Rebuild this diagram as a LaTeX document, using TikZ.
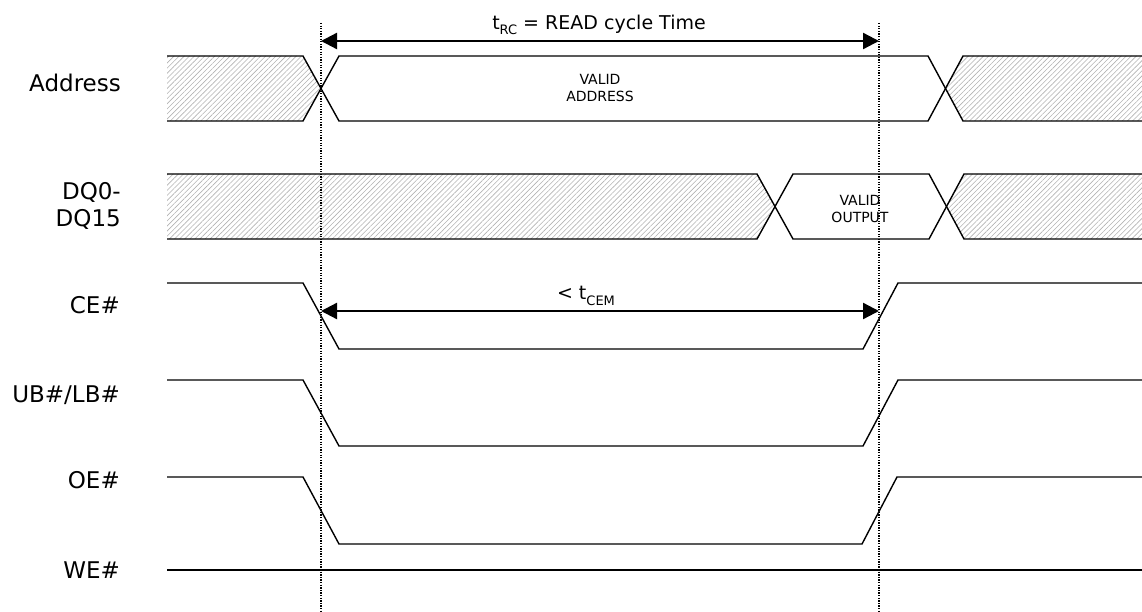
\documentclass[tikz,border=0pt]{standalone}
\usepackage{fontspec}
\setmainfont{DejaVu Sans}
\usetikzlibrary{arrows.meta,patterns.meta}
\newcommand\sbs[1]{\raisebox{-0.3em}{\fontsize{13}{13}\selectfont #1}}
\begin{document}
\begin{tikzpicture}[x=1pt,y=-1pt,
  sig/.style={line width=1.4pt,line join=miter},
  hatch/.style={pattern={Lines[angle=45,distance=3.6pt,line width=0.6pt]},pattern color=black!30},
  guide/.style={line width=1.2pt,dash pattern=on 1.3pt off 1.3pt},
  dim/.style={line width=2.3pt,{Triangle[length=16pt,width=16pt]}-{Triangle[length=16pt,width=16pt]}},
  lbl/.style={anchor=east,font=\fontsize{23}{27}\selectfont,align=right,inner sep=0pt},
  note/.style={font=\fontsize{19}{22}\selectfont,inner sep=0pt},
  small/.style={font=\fontsize{14}{17}\selectfont,align=center,inner sep=0pt}]
\useasboundingbox (0,0) rectangle (1142,612);

% hatched regions
\fill[hatch] (167,56) -- (303,56) -- (321,88.5) -- (303,121) -- (167,121) -- cycle;
\fill[hatch] (1142,56) -- (963,56) -- (945.5,88.5) -- (963,121) -- (1142,121) -- cycle;
\fill[hatch] (167,174) -- (757,174) -- (775,206.5) -- (757,239) -- (167,239) -- cycle;
\fill[hatch] (1142,174) -- (964,174) -- (946.5,206.5) -- (964,239) -- (1142,239) -- cycle;

% guide lines
\coordinate (g1t) at (321,23); \coordinate (g1b) at (321,612);
\coordinate (g2t) at (879,23); \coordinate (g2b) at (879,612);
\draw[guide] (g1t) -- (g1b);
\draw[guide] (g2t) -- (g2b);

% Address
\draw[sig] (167,56) -- (303,56) -- (339,121) -- (928,121) -- (963,56) -- (1142,56);
\draw[sig] (167,121) -- (303,121) -- (339,56) -- (928,56) -- (963,121) -- (1142,121);
% DQ
\draw[sig] (167,174) -- (757,174) -- (793,239) -- (929,239) -- (964,174) -- (1142,174);
\draw[sig] (167,239) -- (757,239) -- (793,174) -- (929,174) -- (964,239) -- (1142,239);
% CE#
\draw[sig] (167,283) -- (303,283) -- (339,349) -- (863,349) -- (898,283) -- (1142,283);
% UB#/LB#
\draw[sig] (167,380) -- (303,380) -- (339,446) -- (863,446) -- (898,380) -- (1142,380);
% OE#
\draw[sig] (167,477) -- (303,477) -- (339,544) -- (862,544) -- (897,477) -- (1142,477);
% WE#
\draw[sig] (167,570) -- (1142,570);

% dimension arrows
\coordinate (a1) at (321,41); \coordinate (a2) at (879,41);
\draw[dim] (a1) -- (a2);
\coordinate (c1) at (321,311); \coordinate (c2) at (879,311);
\draw[dim] (c1) -- (c2);

% texts
\node[note] (trc) at (599,25) {t\sbs{RC} = READ cycle Time};
\node[note] (tcem) at (586,296) {< t\sbs{CEM}};
\node[small] (va) at (600,88) {VALID\\ADDRESS};
\node[small] (vo) at (860,209) {VALID\\OUTPUT};

\node[lbl] (lad) at (121,83) {Address};
\node[lbl] (ldq) at (121,206) {DQ0-\\DQ15};
\node[lbl] (lce) at (120,305) {CE\#};
\node[lbl] (lub) at (120,395) {UB\#/LB\#};
\node[lbl] (loe) at (120,480) {OE\#};
\node[lbl] (lwe) at (120,570) {WE\#};
\end{tikzpicture}
\end{document}
